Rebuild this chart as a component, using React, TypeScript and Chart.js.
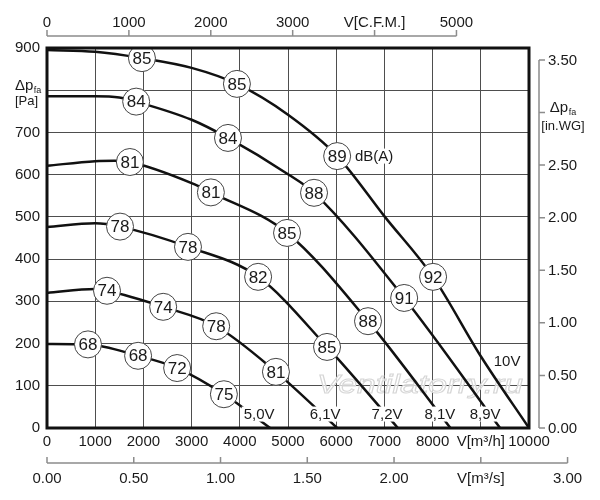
import Chart from 'chart.js/auto';
import React, { useEffect, useRef } from 'react';

const FONT = '"Liberation Sans", Arial, sans-serif';
const INK = '#1a1a1a';
const GRID = '#4e4e4e';
const AXIS_GREY = '#8c8c8c';

// fan curves, flow in m3/h, pressure in Pa
const flow50 = [0, 850, 1890, 2700, 3670, 4630];
const pres50 = [199, 198, 171, 142, 80, 0];
const flow61 = [0, 1000, 1245, 2410, 3510, 4750, 6020];
const pres61 = [320, 329, 325, 287, 241, 133, 0];
const flow72 = [0, 1000, 1515, 2925, 4380, 5810, 7280];
const pres72 = [476, 485, 477, 429, 358, 192, 0];
const flow81 = [0, 1000, 1400, 1720, 3000, 3400, 4980, 6660, 8370];
const pres81 = [621, 632, 633, 630, 580, 558, 462, 253, 0];
const flow89 = [0, 1000, 1500, 1850, 3000, 3755, 5000, 5540, 7410, 9400];
const pres89 = [786, 786, 783, 773, 730, 687, 601, 557, 308, 0];
const flow100 = [0, 1000, 1970, 3000, 3940, 5000, 6020, 7010, 8010, 9000, 10000];
const pres100 = [895, 891, 876, 853, 815, 742, 644, 500, 358, 170, 0];

// noise level markers dB(A)
const noiseDb = [85, 85, 89, 92, 84, 84, 88, 91, 81, 81, 85, 88, 78, 78, 82, 85, 74, 74, 78, 81, 68, 68, 72, 75];
const noiseFlow = [1970, 3940, 6020, 8010, 1850, 3755, 5540, 7410, 1720, 3400, 4980, 6660, 1515, 2925, 4380, 5810, 1245, 2410, 3510, 4750, 850, 1890, 2700, 3670];
const noisePres = [876, 815, 644, 358, 773, 687, 557, 308, 630, 558, 462, 253, 477, 429, 358, 192, 325, 287, 241, 133, 198, 171, 142, 80];

// voltage labels
const voltText = ['5,0V', '6,1V', '7,2V', '8,1V', '8,9V', '10V'];
const voltFlow = [4400, 5770, 7055, 8150, 9090, 9545];
const voltPres = [33, 33, 33, 33, 33, 159];

// secondary axes
const M3H_PER_CFM = 1.699;
const PA_PER_INWG = 249.09;
const cfmTicks = [0, 1000, 2000, 3000, 4000, 5000];
const cfmLabels = ['0', '1000', '2000', '3000', 'V[C.F.M.]', '5000'];
const inwgTicks = [0, 0.5, 1, 1.5, 2, 2.5, 3, 3.5];
const inwgLabels = ['0.00', '0.50', '1.00', '1.50', '2.00', '2.50', '', '3.50'];
const m3sTicks = [0, 0.5, 1, 1.5, 2, 2.5, 3];
const m3sLabels = ['0.00', '0.50', '1.00', '1.50', '2.00', 'V[m³/s]', '3.00'];

const toPoints = (xs: number[], ys: number[]) => xs.map((x, i) => ({ x, y: ys[i] }));

const curve = (xs: number[], ys: number[]) => ({
  data: toPoints(xs, ys),
  borderColor: '#111',
  borderWidth: 2.5,
  pointRadius: 0,
  cubicInterpolationMode: 'monotone' as const,
  fill: false,
  order: 1,
});

// draws "Δp" with subscript "fa", starting at x
const drawDeltaP = (ctx: CanvasRenderingContext2D, x: number, baseline: number) => {
  ctx.textAlign = 'left';
  ctx.textBaseline = 'alphabetic';
  ctx.font = `15px ${FONT}`;
  ctx.fillText('Δp', x, baseline);
  const w = ctx.measureText('Δp').width;
  ctx.font = `9px ${FONT}`;
  ctx.fillText('fa', x + w + 0.5, baseline + 3);
};

const deltaPWidth = (ctx: CanvasRenderingContext2D) => {
  ctx.font = `15px ${FONT}`;
  const a = ctx.measureText('Δp').width;
  ctx.font = `9px ${FONT}`;
  return a + 0.5 + ctx.measureText('fa').width;
};

const labelWithBg = (ctx: CanvasRenderingContext2D, text: string, cx: number, cy: number, align: 'left' | 'center') => {
  ctx.font = `15px ${FONT}`;
  const w = ctx.measureText(text).width;
  const left = align === 'center' ? cx - w / 2 : cx;
  ctx.fillStyle = '#fff';
  ctx.fillRect(left - 2, cy - 7.5, w + 4, 15);
  ctx.fillStyle = INK;
  ctx.textAlign = 'left';
  ctx.textBaseline = 'middle';
  ctx.fillText(text, left, cy + 0.5);
};

const annotate = {
  id: 'annotate',
  beforeDatasetsDraw(chart: any) {
    const ctx: CanvasRenderingContext2D = chart.ctx;
    ctx.save();
    ctx.font = `italic 26px ${FONT}`;
    const text = 'Ventilatorry.ru';
    const w = ctx.measureText(text).width;
    ctx.translate(317, 393);
    ctx.scale(206 / w, 1);
    ctx.fillStyle = 'rgba(255,255,255,0.7)';
    ctx.fillText(text, 0, 0);
    ctx.strokeStyle = '#d6d6d6';
    ctx.lineWidth = 1;
    ctx.strokeText(text, 0, 0);
    ctx.restore();
  },
  afterDatasetsDraw(chart: any) {
    const ctx: CanvasRenderingContext2D = chart.ctx;
    const x = chart.scales.x;
    const y = chart.scales.y;
    const a = chart.chartArea;
    ctx.save();

    // numbers inside noise circles
    const meta = chart.getDatasetMeta(0);
    ctx.fillStyle = INK;
    ctx.font = `17px ${FONT}`;
    ctx.textAlign = 'center';
    ctx.textBaseline = 'middle';
    meta.data.forEach((pt: any, i: number) => {
      ctx.fillText(String(noiseDb[i]), pt.x, pt.y + 1);
    });

    voltText.forEach((t, i) => {
      labelWithBg(ctx, t, x.getPixelForValue(voltFlow[i]), y.getPixelForValue(voltPres[i]), 'center');
    });
    labelWithBg(ctx, 'dB(A)', x.getPixelForValue(6390), y.getPixelForValue(644), 'left');

    // frame
    ctx.strokeStyle = '#111';
    ctx.lineWidth = 3;
    ctx.strokeRect(a.left, a.top, a.right - a.left, a.bottom - a.top);
    ctx.restore();
  },
  afterDraw(chart: any) {
    const ctx: CanvasRenderingContext2D = chart.ctx;
    const x = chart.scales.x;
    const y = chart.scales.y;
    const a = chart.chartArea;
    ctx.save();
    ctx.strokeStyle = AXIS_GREY;
    ctx.lineWidth = 1.5;
    ctx.fillStyle = INK;
    ctx.font = `15px ${FONT}`;

    // top: C.F.M.
    const topY = a.top - 12;
    ctx.beginPath();
    ctx.moveTo(x.getPixelForValue(0), topY);
    ctx.lineTo(x.getPixelForValue(cfmTicks[cfmTicks.length - 1] * M3H_PER_CFM), topY);
    cfmTicks.forEach((t) => {
      const px = x.getPixelForValue(t * M3H_PER_CFM);
      ctx.moveTo(px, topY);
      ctx.lineTo(px, topY - 6);
    });
    ctx.stroke();
    ctx.textAlign = 'center';
    ctx.textBaseline = 'middle';
    cfmTicks.forEach((t, i) => {
      ctx.fillText(cfmLabels[i], x.getPixelForValue(t * M3H_PER_CFM), topY - 13);
    });

    // right: in.WG
    const rightX = a.right + 10;
    ctx.beginPath();
    ctx.moveTo(rightX, y.getPixelForValue(inwgTicks[inwgTicks.length - 1] * PA_PER_INWG));
    ctx.lineTo(rightX, a.bottom);
    inwgTicks.forEach((t) => {
      const py = y.getPixelForValue(t * PA_PER_INWG);
      ctx.moveTo(rightX, py);
      ctx.lineTo(rightX + 6, py);
    });
    ctx.stroke();
    ctx.textAlign = 'left';
    inwgTicks.forEach((t, i) => {
      if (inwgLabels[i]) ctx.fillText(inwgLabels[i], rightX + 9, y.getPixelForValue(t * PA_PER_INWG) + 0.5);
    });
    const titleY = y.getPixelForValue(3 * PA_PER_INWG);
    const cx = rightX + 24;
    drawDeltaP(ctx, cx - deltaPWidth(ctx) / 2, titleY - 0.5);
    ctx.font = `13px ${FONT}`;
    ctx.textAlign = 'center';
    ctx.fillText('[in.WG]', cx, titleY + 18);

    // bottom: m3/s
    const botY = a.bottom + 35;
    ctx.beginPath();
    ctx.moveTo(x.getPixelForValue(0), botY);
    ctx.lineTo(x.getPixelForValue(m3sTicks[m3sTicks.length - 1] * 3600), botY);
    m3sTicks.forEach((t) => {
      const px = x.getPixelForValue(t * 3600);
      ctx.moveTo(px, botY);
      ctx.lineTo(px, botY - 6);
    });
    ctx.stroke();
    ctx.font = `15px ${FONT}`;
    ctx.textAlign = 'center';
    ctx.textBaseline = 'middle';
    m3sTicks.forEach((t, i) => {
      ctx.fillText(m3sLabels[i], x.getPixelForValue(t * 3600), botY + 15.5);
    });

    // left title at the 800 Pa row
    const ly = y.getPixelForValue(800);
    drawDeltaP(ctx, 15, ly);
    ctx.font = `13px ${FONT}`;
    ctx.textAlign = 'left';
    ctx.fillText('[Pa]', 15, ly + 14.5);

    ctx.restore();
  },
};

const App: React.FC = () => {
  const canvasRef = useRef<HTMLCanvasElement>(null);

  useEffect(() => {
    document.body.style.margin = '0';
    const ctx = canvasRef.current?.getContext('2d');
    if (!ctx) return;

    const chart = new Chart(ctx, {
      type: 'line',
      data: {
        datasets: [
          {
            data: toPoints(noiseFlow, noisePres),
            showLine: false,
            pointRadius: 13.5,
            pointHoverRadius: 13.5,
            pointBackgroundColor: '#fff',
            pointBorderColor: '#444',
            pointBorderWidth: 1,
            order: 0,
          } as any,
          curve(flow100, pres100),
          curve(flow89, pres89),
          curve(flow81, pres81),
          curve(flow72, pres72),
          curve(flow61, pres61),
          curve(flow50, pres50),
        ],
      },
      options: {
        responsive: false,
        animation: false,
        layout: { padding: { top: 48, right: 71, left: 0, bottom: 0 } },
        plugins: {
          legend: { display: false },
          tooltip: { enabled: false },
        },
        scales: {
          x: {
            type: 'linear',
            min: 0,
            max: 10000,
            afterFit: (scale: any) => {
              scale.height = 72;
            },
            border: { display: false },
            grid: { color: GRID, lineWidth: 1, drawTicks: false },
            ticks: {
              stepSize: 1000,
              autoSkip: false,
              maxRotation: 0,
              padding: 5,
              color: INK,
              font: { family: FONT, size: 15 },
              callback: (v: any) => (v === 9000 ? 'V[m³/h]' : String(v)),
            },
          },
          y: {
            type: 'linear',
            min: 0,
            max: 900,
            afterFit: (scale: any) => {
              scale.width = 47;
            },
            border: { display: false },
            grid: { color: GRID, lineWidth: 1, drawTicks: false },
            ticks: {
              stepSize: 100,
              padding: 7,
              color: INK,
              font: { family: FONT, size: 15 },
              callback: (v: any) => (v === 800 ? '' : String(v)),
            },
          },
        },
      },
      plugins: [annotate],
    });

    return () => {
      chart.destroy();
    };
  }, []);

  return (
    <div style={{ width: 600, height: 500 }}>
      <canvas ref={canvasRef} width={600} height={500} />
    </div>
  );
};

export default App;
